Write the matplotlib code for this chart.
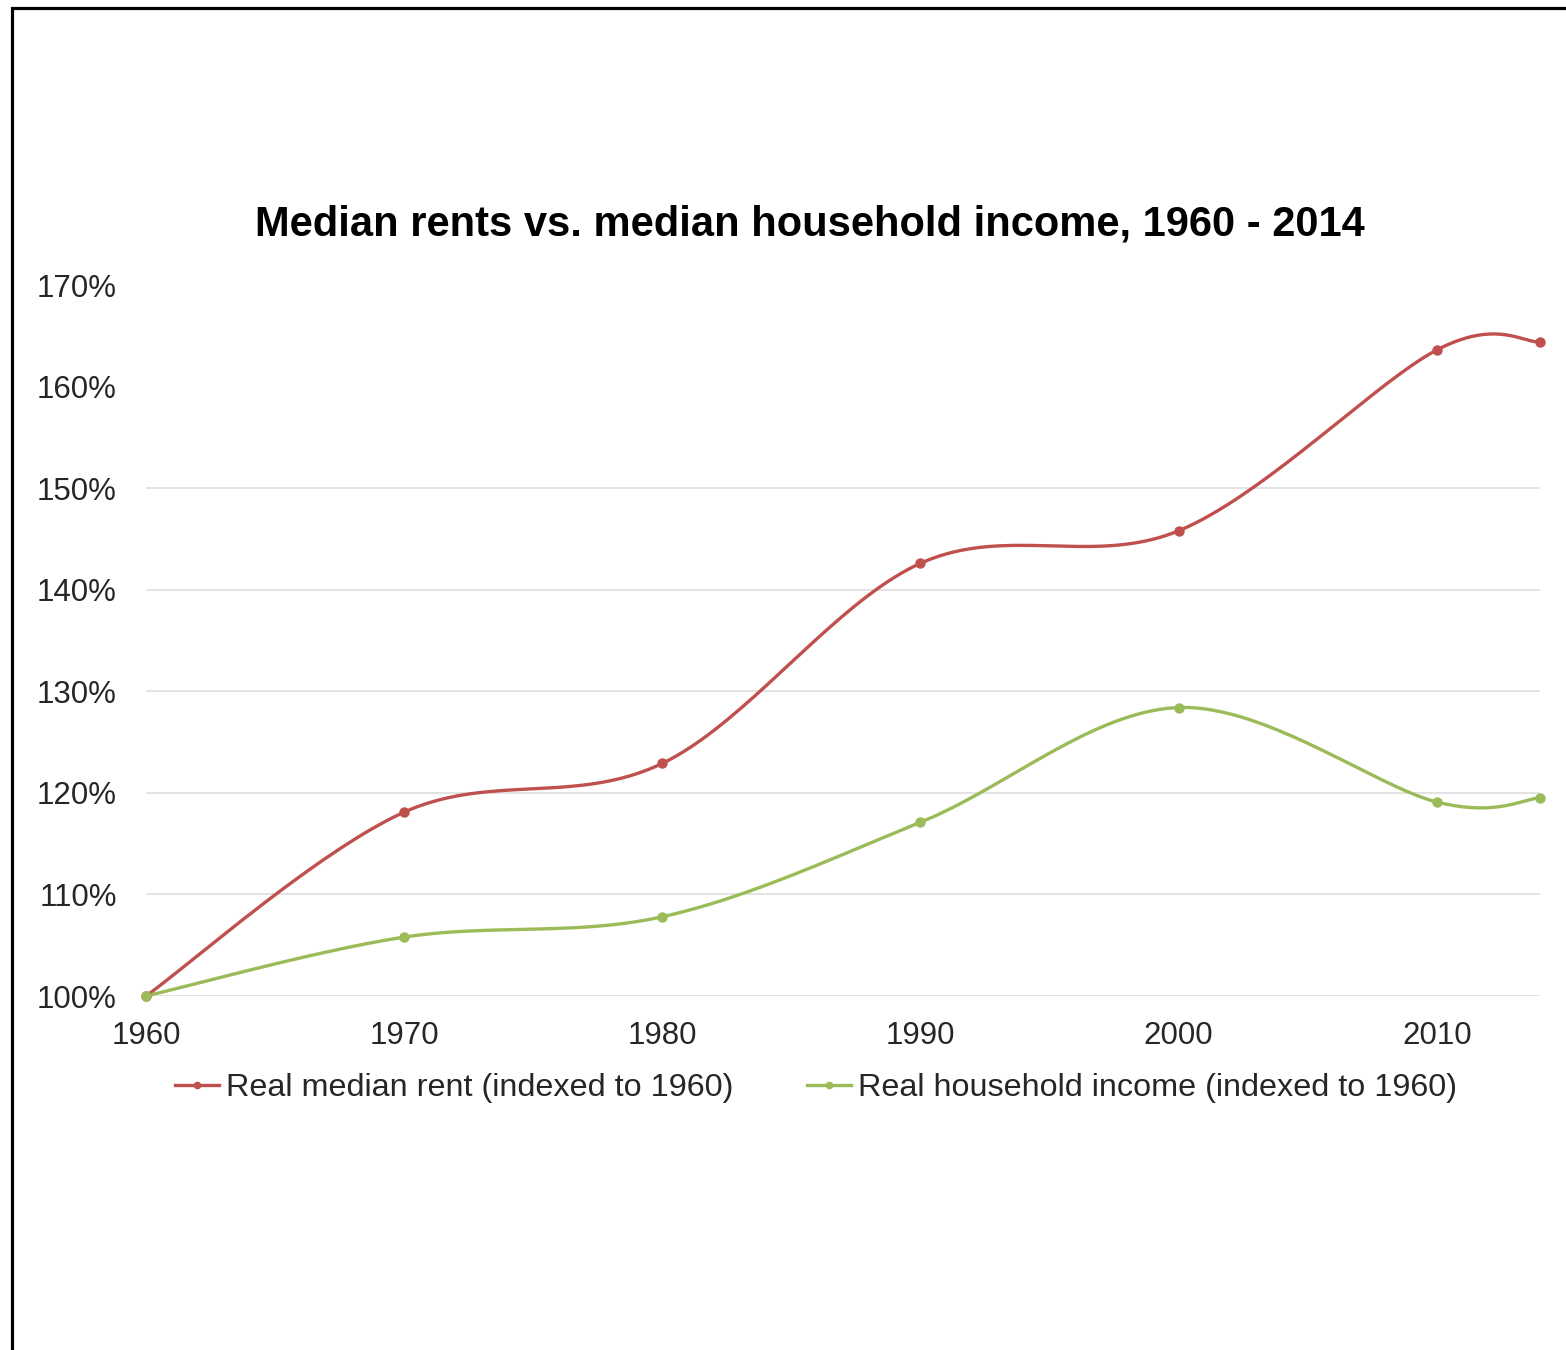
#! /usr/bin/env python3
# Median rents vs. median household income, 1960 - 2014

import matplotlib.pyplot as plt
import numpy as np
from matplotlib.patches import Rectangle

years = [1960, 1970, 1980, 1990, 2000, 2010, 2014]
rent = [100.0, 118.1, 122.9, 142.6, 145.8, 163.6, 164.4]
income = [100.0, 105.8, 107.8, 117.1, 128.4, 119.1, 119.5]

x_ticks = [1960, 1970, 1980, 1990, 2000, 2010]
y_ticks = [100, 110, 120, 130, 140, 150, 160, 170]
grid_levels = [100, 110, 120, 130, 140, 150]

labels = ['Real median rent (indexed to 1960)', 'Real household income (indexed to 1960)']
colors = ['#C0504D', '#9BBB59']


def smooth(xs, ys, n=40):
    # Excel-style smoothed line: bezier segments with catmull-rom control points
    P = np.column_stack([xs, ys]).astype(float)
    P_ext = np.vstack([P[0], P, P[-1]])
    t = np.linspace(0, 1, n)[:, None]
    out = []
    for i in range(len(P) - 1):
        p0, p3 = P[i], P[i + 1]
        c1 = p0 + (P_ext[i + 2] - P_ext[i]) / 6
        c2 = p3 - (P_ext[i + 3] - P_ext[i + 1]) / 6
        seg = ((1 - t) ** 3) * p0 + 3 * ((1 - t) ** 2) * t * c1 + 3 * (1 - t) * t ** 2 * c2 + t ** 3 * p3
        out.append(seg if i == 0 else seg[1:])
    out = np.vstack(out)
    return out[:, 0], out[:, 1]


plt.rcParams['font.family'] = ['Liberation Sans', 'DejaVu Sans']

fig = plt.figure(figsize=(15.66, 13.5), dpi=100)
ax = fig.add_axes([146 / 1566, 1 - 996 / 1350, (1540 - 146) / 1566, (996 - 285) / 1350])

for lvl in grid_levels:
    ax.axhline(lvl, color='#E3E3E3', lw=1.4, zorder=0)

for series, col, lab in zip([rent, income], colors, labels):
    sx, sy = smooth(years, series)
    ax.plot(sx, sy, color=col, lw=2.4, clip_on=False, zorder=3)
    ax.plot(years, series, 'o', color=col, ms=6.5, clip_on=False, zorder=4)
    # legend proxy
    ax.plot([], [], '-o', color=col, lw=2.4, ms=4.5, label=lab)

ax.set_xlim(1960, 2014)
ax.set_ylim(100, 170)
ax.set_xticks(x_ticks)
ax.set_yticks(y_ticks)
ax.set_yticklabels([f'{v}%' for v in y_ticks])
ax.tick_params(length=0, labelsize=22.5, labelcolor='#262626')
ax.tick_params(axis='y', pad=21)
ax.tick_params(axis='x', pad=18)
for s in ax.spines.values():
    s.set_visible(False)

fig.text(810 / 1566, 1 - 224 / 1350, 'Median rents vs. median household income, 1960 - 2014',
         ha='center', va='center', fontsize=30, fontweight='bold')

fig.legend(loc='center', bbox_to_anchor=(816 / 1566, 1 - 1088 / 1350), ncol=2, frameon=False,
           fontsize=23.3, handlelength=1.36, handletextpad=0.22, columnspacing=2.25,
           labelcolor='#262626')

# outer frame (cut off at right and bottom)
fig.patches.append(Rectangle((12 / 1566, -0.1), 1.2, 1.1 - 8 / 1350, transform=fig.transFigure,
                             fill=False, edgecolor='black', lw=2.3))

fig.savefig('out.png', dpi=100)
